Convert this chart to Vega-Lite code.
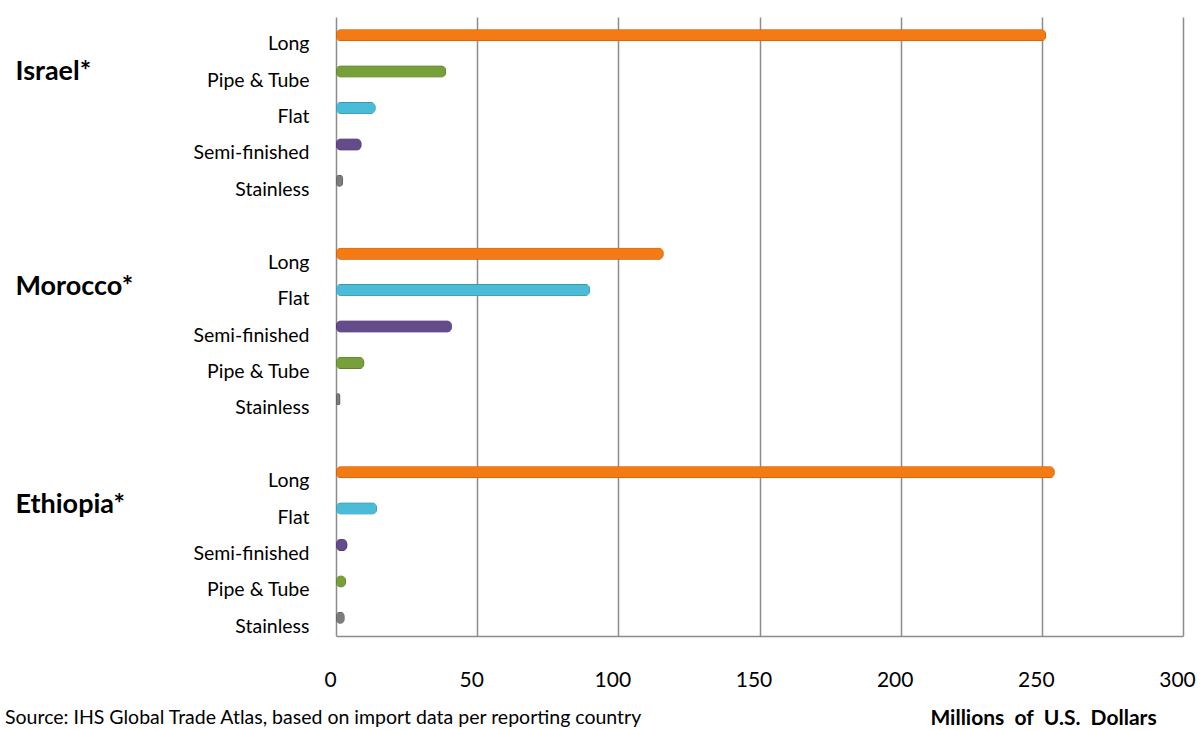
{
  "$schema": "https://vega.github.io/schema/vega-lite/v6.json",
  "autosize": "none",
  "width": 847,
  "height": 619,
  "padding": {"left": 336, "top": 17, "right": 19, "bottom": 94},
  "background": "white",
  "view": {"stroke": null},
  "title": {
    "text": "Source: IHS Global Trade Atlas, based on import data per reporting country",
    "orient": "bottom",
    "anchor": "start",
    "frame": "group",
    "dx": -331,
    "offset": -19,
    "font": "Lato",
    "fontSize": 19.5,
    "fontWeight": "normal",
    "color": "#000000"
  },
  "data": {
    "values": [
      {"key": "Israel|Long", "country": "Israel", "product": "Long", "value": 251.5},
      {"key": "Israel|Pipe & Tube", "country": "Israel", "product": "Pipe & Tube", "value": 39},
      {"key": "Israel|Flat", "country": "Israel", "product": "Flat", "value": 14},
      {"key": "Israel|Semi-finished", "country": "Israel", "product": "Semi-finished", "value": 9},
      {"key": "Israel|Stainless", "country": "Israel", "product": "Stainless", "value": 2.5},
      {"key": "Morocco|Long", "country": "Morocco", "product": "Long", "value": 116},
      {"key": "Morocco|Flat", "country": "Morocco", "product": "Flat", "value": 90},
      {"key": "Morocco|Semi-finished", "country": "Morocco", "product": "Semi-finished", "value": 41},
      {"key": "Morocco|Pipe & Tube", "country": "Morocco", "product": "Pipe & Tube", "value": 10},
      {"key": "Morocco|Stainless", "country": "Morocco", "product": "Stainless", "value": 1.5},
      {"key": "Ethiopia|Long", "country": "Ethiopia", "product": "Long", "value": 254.5},
      {"key": "Ethiopia|Flat", "country": "Ethiopia", "product": "Flat", "value": 14.5},
      {"key": "Ethiopia|Semi-finished", "country": "Ethiopia", "product": "Semi-finished", "value": 4},
      {"key": "Ethiopia|Pipe & Tube", "country": "Ethiopia", "product": "Pipe & Tube", "value": 3.5},
      {"key": "Ethiopia|Stainless", "country": "Ethiopia", "product": "Stainless", "value": 3}
    ]
  },
  "encoding": {
    "y": {
      "field": "key",
      "type": "nominal",
      "scale": {
        "domain": [
          "Israel|Long", "Israel|Pipe & Tube", "Israel|Flat", "Israel|Semi-finished", "Israel|Stainless",
          "gap1",
          "Morocco|Long", "Morocco|Flat", "Morocco|Semi-finished", "Morocco|Pipe & Tube", "Morocco|Stainless",
          "gap2",
          "Ethiopia|Long", "Ethiopia|Flat", "Ethiopia|Semi-finished", "Ethiopia|Pipe & Tube", "Ethiopia|Stainless"
        ],
        "paddingInner": 0,
        "paddingOuter": 0
      }
    },
    "x": {
      "field": "value",
      "type": "quantitative",
      "scale": {"domain": [0, 300], "nice": false}
    }
  },
  "layer": [
    {
      "mark": {"type": "bar", "size": 12, "cornerRadius": 5, "strokeWidth": 1.2},
      "encoding": {
        "y": {
          "field": "key",
          "type": "nominal",
          "axis": {
            "title": null,
            "orient": "left",
            "domain": false,
            "ticks": false,
            "grid": false,
            "labelPadding": 27,
            "labelOffset": 9,
            "labelFont": "Lato",
            "labelFontSize": 19.5,
            "labelColor": "#000000",
            "labelExpr": "indexof(datum.value, '|') > 0 ? split(datum.value, '|')[1] : ''"
          }
        },
        "x": {
          "field": "value",
          "type": "quantitative",
          "axis": {
            "title": "Millions\u00a0 of\u00a0 U.S.\u00a0 Dollars",
            "values": [0, 50, 100, 150, 200, 250, 300],
            "grid": true,
            "gridColor": "#8c8c8c",
            "gridWidth": 1.5,
            "domain": true,
            "domainColor": "#8c8c8c",
            "domainWidth": 1.5,
            "ticks": false,
            "labelPadding": 33,
            "labelOffset": -6,
            "labelFont": "Lato",
            "labelFontSize": 21,
            "labelColor": "#000000",
            "labelFlush": false,
            "titleFont": "Lato",
            "titleFontSize": 21,
            "titleFontWeight": "bold",
            "titleColor": "#000000",
            "titleX": 707,
            "titleY": 82,
            "titleBaseline": "middle",
            "titleAlign": "center"
          }
        },
        "color": {
          "field": "product",
          "type": "nominal",
          "legend": null,
          "scale": {
            "domain": ["Long", "Pipe & Tube", "Flat", "Semi-finished", "Stainless"],
            "range": ["#F47B14", "#77A03B", "#4BBCD8", "#644C8B", "#7C7C7C"]
          }
        },
        "stroke": {
          "field": "product",
          "type": "nominal",
          "legend": null,
          "scale": {
            "domain": ["Long", "Pipe & Tube", "Flat", "Semi-finished", "Stainless"],
            "range": ["#B8560A", "#55762A", "#2F8CA4", "#47346A", "#555555"]
          }
        }
      }
    },
    {
      "mark": {"type": "tick", "opacity": 0},
      "encoding": {
        "y": {
          "field": "key",
          "type": "nominal",
          "axis": {
            "title": null,
            "orient": "left",
            "domain": false,
            "ticks": false,
            "grid": false,
            "offset": 321,
            "labelPadding": 0,
            "labelAlign": "left",
            "labelFont": "Lato",
            "labelFontSize": 27,
            "labelFontWeight": "bold",
            "labelColor": "#000000",
            "labelOffset": {"condition": {"test": "datum.value != 'Israel|Pipe & Tube'", "value": 33}, "value": 0},
            "labelExpr": "indexof(['Israel|Pipe & Tube', 'Morocco|Long', 'Ethiopia|Long'], datum.value) >= 0 ? split(datum.value, '|')[0] + '*' : ''"
          }
        },
        "x": {"field": "value", "type": "quantitative", "axis": null}
      }
    }
  ],
  "resolve": {"axis": {"y": "independent", "x": "independent"}}
}
